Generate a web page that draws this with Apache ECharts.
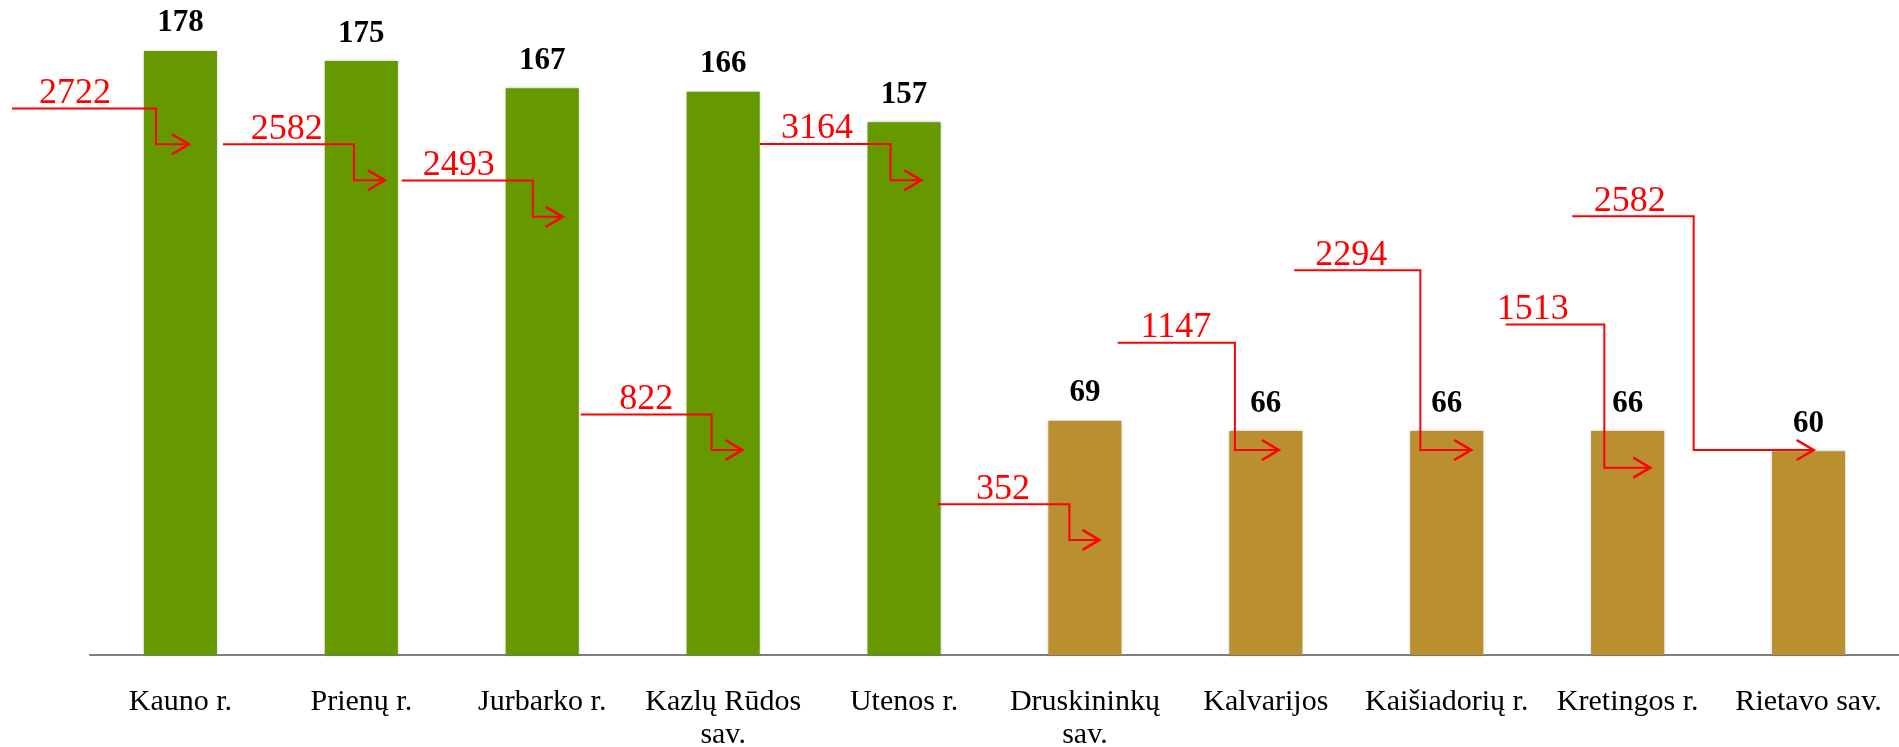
<!DOCTYPE html>
<html>
<head>
<meta charset="utf-8">
<script src="https://cdn.jsdelivr.net/npm/echarts@6/dist/echarts.min.js"></script>
<style>
html,body{margin:0;padding:0;background:#fff;}
#chart{width:1899px;height:747px;}
</style>
</head>
<body>
<div id="chart"></div>
<script>
// ---- data ----
const categories = ['Kauno r.', 'Prienų r.', 'Jurbarko r.', 'Kazlų Rūdos sav.', 'Utenos r.',
  'Druskininkų sav.', 'Kalvarijos', 'Kaišiadorių r.', 'Kretingos r.', 'Rietavo sav.'];
const barValues = [178, 175, 167, 166, 157, 69, 66, 66, 66, 60];
const arrowValues = [2722, 2582, 2493, 822, 3164, 352, 1147, 2294, 1513, 2582];

// ---- annotation layout (x in category-band units relative to bar centre, y in axis units) ----
const arrowStartX = [-0.931, -0.765, -0.776, -0.787, -0.798, -0.815, -0.819, -0.843, -0.674, -1.306];
const arrowElbowX = [-0.135, -0.041, -0.052, -0.064, -0.075, -0.086, -0.171, -0.146, -0.129, -0.635];
const arrowTipX   = [0.047, 0.130, 0.113, 0.106, 0.095, 0.080, 0.072, 0.135, 0.125, 0.028];
const arrowTextX  = [-0.583, -0.412, -0.461, -0.425, -0.481, -0.453, -0.497, -0.528, -0.525, -0.989];
const arrowLineY  = [161.0, 150.5, 139.8, 70.9, 150.6, 44.4, 92.0, 113.4, 97.4, 129.3];
const arrowTipY   = [150.5, 139.9, 129.1, 60.4, 139.9, 33.9, 60.4, 60.4, 55.2, 60.4];

const GREEN = '#669900';
const GOLD = '#B98F30';
const FONT = '"Liberation Serif", "Times New Roman", serif';

const chart = echarts.init(document.getElementById('chart'));
chart.setOption({
  animation: false,
  backgroundColor: '#ffffff',
  grid: { left: 90, right: 0, top: 0, bottom: 92, containLabel: false, outerBoundsMode: 'none' },
  xAxis: {
    type: 'category',
    data: categories,
    axisLine: { show: true, lineStyle: { color: '#808080', width: 2 } },
    axisTick: { show: false },
    axisLabel: {
      interval: 0,
      color: '#000',
      fontFamily: FONT,
      fontSize: 30,
      lineHeight: 33,
      margin: 31,
      formatter: function (name) {
        return (name.length > 12 && / sav\.$/.test(name)) ? name.replace(/ sav\.$/, '\nsav.') : name;
      }
    }
  },
  yAxis: { type: 'value', min: 0, max: 193, show: false, splitLine: { show: false } },
  series: [
    {
      type: 'bar',
      data: barValues,
      barWidth: '40.4%',
      itemStyle: {
        color: p => (p.dataIndex < 5 ? GREEN : GOLD),
        shadowColor: 'rgba(0,0,0,0.3)',
        shadowBlur: 3
      },
      label: {
        show: true,
        position: 'top',
        distance: 12,
        color: '#000',
        fontFamily: FONT,
        fontWeight: 'bold',
        fontSize: 31
      },
      z: 2
    },
    {
      type: 'custom',
      coordinateSystem: 'cartesian2d',
      encode: { x: 0, y: 1 },
      data: arrowValues.map((v, i) => [i, arrowLineY[i], v]),
      z: 5,
      renderItem: function (params, api) {
        const i = api.value(0);
        const lineY = api.value(1);
        const val = api.value(2);
        const band = api.size([1, 0])[0];
        const cx = api.coord([i, 0])[0];
        const yl = api.coord([i, lineY])[1];
        const yt = api.coord([i, arrowTipY[i]])[1];
        const xs = cx + arrowStartX[i] * band;
        const xe = cx + arrowElbowX[i] * band;
        const xt = cx + arrowTipX[i] * band;
        const tx = cx + arrowTextX[i] * band;
        return {
          type: 'group',
          children: [
            {
              type: 'polyline',
              shape: { points: [[xs, yl], [xe, yl], [xe, yt], [xt, yt]] },
              style: { stroke: '#FF0000', lineWidth: 2, fill: null }
            },
            {
              type: 'polyline',
              shape: { points: [[xt - 17, yt - 10], [xt, yt], [xt - 17, yt + 10]] },
              style: { stroke: '#FF0000', lineWidth: 2.5, fill: null }
            },
            {
              type: 'text',
              x: tx,
              y: yl + 3,
              style: {
                text: String(val),
                fill: '#FF0000',
                font: '36px ' + FONT,
                align: 'center',
                verticalAlign: 'bottom'
              }
            }
          ]
        };
      }
    }
  ]
});
</script>
</body>
</html>
